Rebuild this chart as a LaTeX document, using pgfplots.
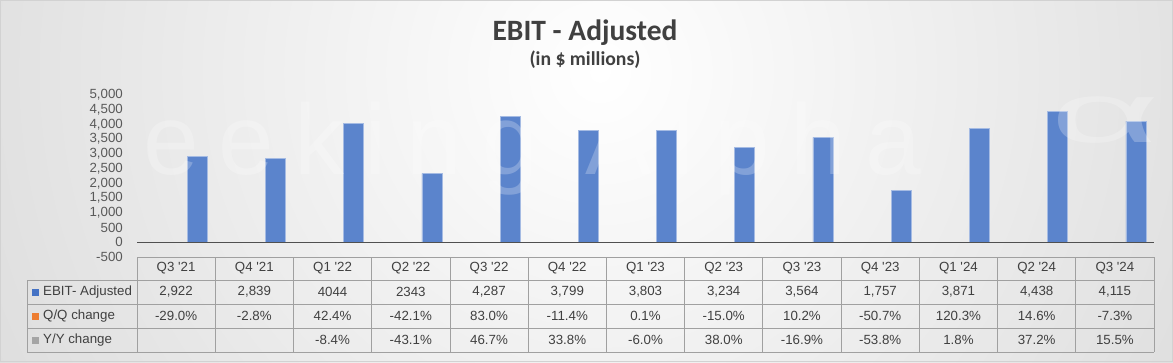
\documentclass[border=0pt]{standalone}
\usepackage{fontspec}
\setmainfont{Liberation Sans}
\newfontfamily\titlefont{Carlito}
\newfontfamily\wmfont[LetterSpace=20]{Liberation Sans}
\usepackage{pgfplots}
\pgfplotsset{compat=1.18}
\definecolor{barblue}{HTML}{5B84CC}
\definecolor{legblue}{HTML}{4472C4}
\definecolor{legorange}{HTML}{ED7D31}
\definecolor{leggray}{HTML}{A5A5A5}
\definecolor{tickgray}{HTML}{595959}
\definecolor{txtgray}{HTML}{404040}
\definecolor{tablegray}{HTML}{A0A0A0}
\definecolor{zerogray}{HTML}{505050}
\newcommand{\tbl}{\fontsize{13.3}{15}\selectfont}
\begin{document}
\begin{tikzpicture}[x=1pt,y=1pt]
% background
\begin{scope}
\clip (0,0) rectangle (1173,362);
\shade[inner color=white, outer color=gray!50] (600,290) circle (1300);
\end{scope}
\draw[gray!35, line width=1pt] (0.5,0.5) rectangle (1172.5,361.5);
% titles
\node[font=\titlefont\bfseries\fontsize{29.5}{29.5}\selectfont, text=txtgray, anchor=base] at (585,321) {EBIT - Adjusted};
\node[font=\titlefont\bfseries\fontsize{19.7}{19.7}\selectfont, text=txtgray, anchor=base] at (585,296) {(in \$ millions)};
\begin{axis}[
  at={(137pt,105pt)}, anchor=south west, scale only axis,
  width=1017pt, height=162pt,
  xmin=-0.5, xmax=12.5, ymin=-500, ymax=5000,
  clip=false,
  axis line style={draw=none},
  major tick length=0pt,
  xtick=\empty,
  ytick={-500,0,500,1000,1500,2000,2500,3000,3500,4000,4500,5000},
  yticklabels={-500,0,500,{1,000},{1,500},{2,000},{2,500},{3,000},{3,500},{4,000},{4,500},{5,000}},
  yticklabel style={font=\tbl, text=tickgray, inner sep=0pt, xshift=-14pt},
]
\addplot[ybar, bar width=20pt, bar shift=21pt, fill=barblue, draw=barblue!55!white, line width=0.6pt]
  coordinates {(0,2922) (1,2839) (2,4044) (3,2343) (4,4287) (5,3799) (6,3803) (7,3234) (8,3564) (9,1757) (10,3871) (11,4438) (12,4115)};
\addplot[zerogray, line width=1.5pt] coordinates {(-0.5,0) (12.5,0)};
\end{axis}
% watermark
\node[font=\wmfont\fontsize{100}{100}\selectfont, text=white, opacity=0.24, anchor=base west, inner sep=0pt] at (143,187) {eeking Alpha};
\node[font=\fontsize{100}{100}\selectfont, text=white, opacity=0.24, anchor=base west, inner sep=0pt, xscale=1.9, yscale=0.85] at (1050,219) {α};
% table
\def\colw{78.23}
\foreach \i in {0,...,13} \draw[tablegray, line width=0.8pt] ({137+\i*\colw},105) -- ({137+\i*\colw},10);
\draw[tablegray, line width=0.8pt] (137,105) -- (1154,105);
\foreach \y in {82,58,34,10} \draw[tablegray, line width=0.8pt] (27,\y) -- (1154,\y);
\draw[tablegray, line width=0.8pt] (27,82) -- (27,10);
\foreach \lab [count=\i from 0] in {Q3 \textquotesingle21,Q4 \textquotesingle21,Q1 \textquotesingle22,Q2 \textquotesingle22,Q3 \textquotesingle22,Q4 \textquotesingle22,Q1 \textquotesingle23,Q2 \textquotesingle23,Q3 \textquotesingle23,Q4 \textquotesingle23,Q1 \textquotesingle24,Q2 \textquotesingle24,Q3 \textquotesingle24}
  \node[font=\tbl, text=txtgray] at ({137+(\i+0.5)*\colw},93.5) {\lab};
\foreach \lab [count=\i from 0] in {{2,922},{2,839},4044,2343,{4,287},{3,799},{3,803},{3,234},{3,564},{1,757},{3,871},{4,438},{4,115}}
  \node[font=\tbl, text=txtgray] at ({137+(\i+0.5)*\colw},70) {\lab};
\foreach \lab [count=\i from 0] in {-29.0\%,-2.8\%,42.4\%,-42.1\%,83.0\%,-11.4\%,0.1\%,-15.0\%,10.2\%,-50.7\%,120.3\%,14.6\%,-7.3\%}
  \node[font=\tbl, text=txtgray] at ({137+(\i+0.5)*\colw},46) {\lab};
\foreach \lab [count=\i from 2] in {-8.4\%,-43.1\%,46.7\%,33.8\%,-6.0\%,38.0\%,-16.9\%,-53.8\%,1.8\%,37.2\%,15.5\%}
  \node[font=\tbl, text=txtgray] at ({137+(\i+0.5)*\colw},22) {\lab};
% row labels
\fill[legblue] (32,66.5) rectangle (39,73.5);
\fill[legorange] (32,42.5) rectangle (39,49.5);
\fill[leggray] (32,18.5) rectangle (39,25.5);
\node[font=\tbl, text=txtgray, anchor=west, inner sep=0pt] at (43,70) {EBIT- Adjusted};
\node[font=\tbl, text=txtgray, anchor=west, inner sep=0pt] at (43,46) {Q/Q change};
\node[font=\tbl, text=txtgray, anchor=west, inner sep=0pt] at (43,22) {Y/Y change};
\end{tikzpicture}
\end{document}
